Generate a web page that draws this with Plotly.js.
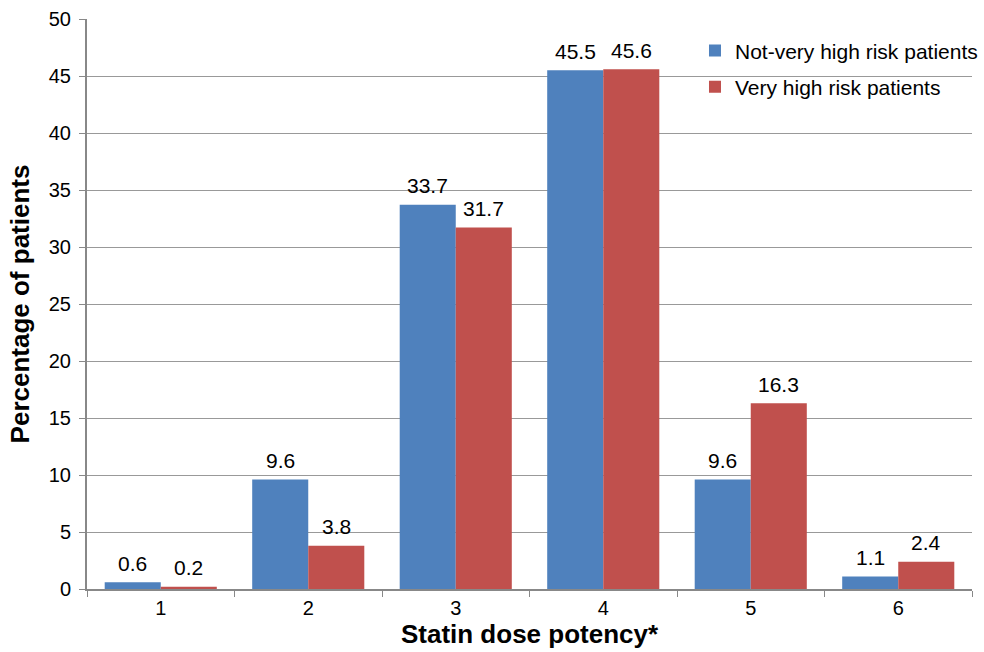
<!DOCTYPE html>
<html>
<head>
<meta charset="utf-8">
<script src="https://cdn.plot.ly/plotly-3.0.1.min.js"></script>
<style>html,body{margin:0;padding:0;background:#fff;}#chart{width:984px;height:652px;}</style>
</head>
<body>
<div id="chart"></div>
<script>
const categories = ['1', '2', '3', '4', '5', '6'];
const notVeryHigh = [0.6, 9.6, 33.7, 45.5, 9.6, 1.1];
const veryHigh = [0.2, 3.8, 31.7, 45.6, 16.3, 2.4];
const seriesNames = ['Not-very high risk patients', 'Very high risk patients'];
const yTicks = [0, 5, 10, 15, 20, 25, 30, 35, 40, 45, 50];

const FAM = 'Liberation Sans, Arial, sans-serif';
function f(size, bold) { return {family: FAM, size: size, color: '#000', weight: bold ? 'bold' : 'normal'}; }

const colors = ['#4F81BD', '#C0504D'];
const traces = [
  {type: 'bar', name: seriesNames[0], legendgroup: 'a', x: categories, y: notVeryHigh, marker: {color: colors[0]}},
  {type: 'bar', name: seriesNames[1], legendgroup: 'b', x: categories, y: veryHigh, marker: {color: colors[1]}}
];

const annotations = [];
[notVeryHigh, veryHigh].forEach((vals, s) => {
  vals.forEach((v, i) => {
    annotations.push({x: i, y: v, xref: 'x', yref: 'y', text: v.toFixed(1),
      showarrow: false, xshift: s === 0 ? -28 : 28, yshift: 19, font: f(21)});
  });
});

const layout = {
  width: 984, height: 652,
  margin: {l: 87, r: 12, t: 19, b: 63, autoexpand: false},
  paper_bgcolor: '#fff', plot_bgcolor: '#fff',
  font: f(20),
  barmode: 'group', bargap: 0.24, bargroupgap: 0,
  showlegend: true,
  annotations: annotations,
  legend: {x: 0.687, y: 0.98, xanchor: 'left', yanchor: 'top', bgcolor: 'rgba(0,0,0,0)',
           font: f(21), tracegroupgap: 6, itemwidth: 30},
  xaxis: {type: 'category', range: [-0.5, 5.5], tickson: 'boundaries', ticks: 'outside', ticklen: 6,
          tickcolor: '#888', showline: true, linecolor: '#888', linewidth: 2,
          showgrid: false, tickfont: f(20), automargin: false,
          title: {text: 'Statin dose potency*', font: f(26, true), standoff: 4}},
  yaxis: {range: [0, 50], tickvals: yTicks, ticks: 'outside', ticklen: 6, tickcolor: '#888',
          showline: true, linecolor: '#888', linewidth: 2, showgrid: true, gridcolor: '#999',
          gridwidth: 1, zeroline: false, tickfont: f(20), ticklabelstandoff: 4, automargin: false,
          title: {text: 'Percentage of patients', font: f(26, true), standoff: 12}}
};

Plotly.newPlot('chart', traces, layout, {displayModeBar: false, staticPlot: true});
</script>
</body>
</html>
